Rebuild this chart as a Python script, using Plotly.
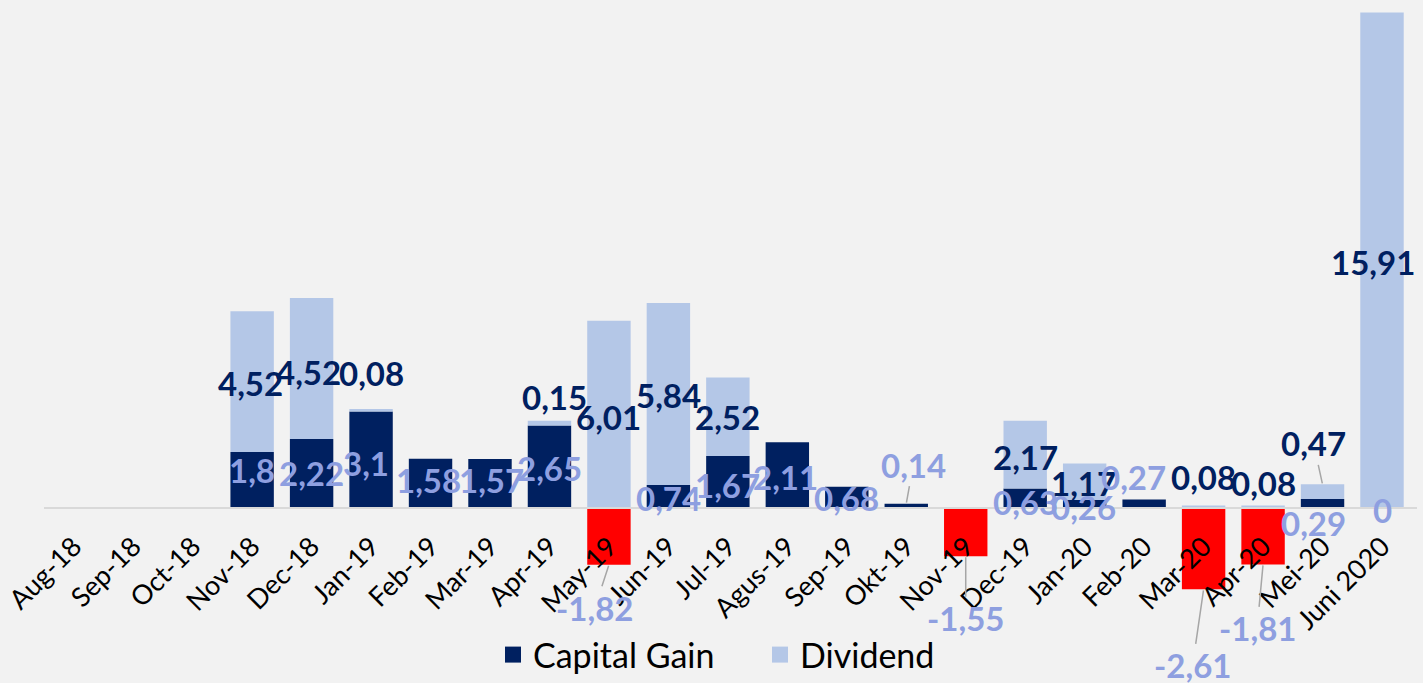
import plotly.graph_objects as go

# ---------------- data ----------------
categories = ["Aug-18", "Sep-18", "Oct-18", "Nov-18", "Dec-18", "Jan-19", "Feb-19",
              "Mar-19", "Apr-19", "May-19", "Jun-19", "Jul-19", "Agus-19", "Sep-19",
              "Okt-19", "Nov-19", "Dec-19", "Jan-20", "Feb-20", "Mar-20", "Apr-20",
              "Mei-20", "Juni 2020"]
capital_gain = [None, None, None, 1.8, 2.22, 3.1, 1.58, 1.57, 2.65, -1.82, 0.74, 1.67,
                2.11, 0.68, 0.14, -1.55, 0.63, 0.26, 0.27, -2.61, -1.81, 0.29, 0]
dividend = [None, None, None, 4.52, 4.52, 0.08, None, None, 0.15, 6.01, 5.84, 2.52,
            None, None, None, None, 2.17, 1.17, None, 0.08, 0.08, 0.47, 15.91]

# ---------------- style ----------------
NAVY = "#002060"
LIGHT = "#B4C7E7"
RED = "#FF0000"
LABEL_LIGHT = "#8E9FE0"
BG = "#F2F2F2"
FONT = "Lato"
LABEL_SIZE = 33

# label placement (pixel offsets: dx from category centre, dy above the zero line)
# entries with an arrow: (dx, dy) is the text offset from the bar end
cg_label_pos = [None, None, None, (0, 38), (0, 35), (-5, 45), (-2, 28), (1, 28), (0, 40),
                ("arrow", -14, 43), (0, 10), (0, 23), (-2, 31), (0, 10),
                ("arrow", 7, -39), ("arrow", 0, 62), (0, 6), (-1, 1), (-11, 31),
                ("arrow", -11, 76), ("arrow", -6, 64), (-9, -15), (0, -2)]
dv_label_pos = [None, None, None, (-2, 125), (-3, 136), (0, 135), None, None, (5, 111),
                (0, 91), (0, 113), (0, 91), None, None, None, None, (0, 51), (-1, 25),
                None, (0, 31), (0, 25), ("arrow", -9, -41), (-9, 246)]

def fmt(v):
    s = f"{v:.2f}".rstrip("0").rstrip(".")
    return s.replace(".", ",")

cg_colors = [RED if (v is not None and v < 0) else NAVY for v in capital_gain]

fig = go.Figure()
fig.add_trace(go.Bar(x=categories, y=capital_gain, name="Capital Gain",
                     marker=dict(color=cg_colors, line=dict(width=0)),
                     hoverinfo="skip", showlegend=False, legendgroup="cg"))
fig.add_trace(go.Bar(x=categories, y=dividend, name="Dividend",
                     marker=dict(color=LIGHT, line=dict(width=0)),
                     hoverinfo="skip", showlegend=False, legendgroup="dv"))
# legend entries with larger square keys
for name, col, grp in (("Capital Gain", NAVY, "cg"), ("Dividend", LIGHT, "dv")):
    fig.add_trace(go.Scatter(x=[None], y=[None], mode="markers", name=name,
                             legendgroup=grp,
                             marker=dict(symbol="square", size=21, color=col),
                             hoverinfo="skip"))

annotations = []
for i, cat in enumerate(categories):
    for vals, pos, color in ((capital_gain, cg_label_pos, LABEL_LIGHT),
                             (dividend, dv_label_pos, NAVY)):
        v = vals[i]
        p = pos[i]
        if v is None or p is None:
            continue
        font = dict(family=FONT, size=LABEL_SIZE, color=color, weight="bold")
        if p[0] == "arrow":
            if vals is dividend:
                tip = (capital_gain[i] or 0) + v
            else:
                tip = v
            annotations.append(dict(x=cat, y=tip, xref="x", yref="y", text=fmt(v),
                                    showarrow=True, arrowhead=0, arrowwidth=1.5,
                                    arrowcolor="#A6A6A6", ax=p[1], ay=p[2],
                                    standoff=1, font=font))
        else:
            annotations.append(dict(x=cat, y=0, xref="x", yref="y", text=fmt(v),
                                    showarrow=False, xshift=p[0], yshift=p[1],
                                    xanchor="center", yanchor="middle", font=font))

y_top, y_bot = 16.15, -2.953
fig.update_layout(
    barmode="relative",
    bargap=0.27,
    width=1423, height=683,
    margin=dict(l=44, r=6, t=5, b=83),
    paper_bgcolor=BG, plot_bgcolor=BG,
    font=dict(family=FONT, color="#000000"),
    showlegend=True,
    legend=dict(orientation="h", xref="container", yref="container",
                x=493 / 1423, y=0.041, xanchor="left", yanchor="middle",
                font=dict(family=FONT, size=34, color="#000000"),
                bgcolor="rgba(0,0,0,0)", itemwidth=30, itemsizing="trace",
                entrywidth=222, entrywidthmode="pixels"),
    annotations=annotations,
    xaxis=dict(type="category", anchor="free",
               position=(0 - y_bot) / (y_top - y_bot),
               showline=True, linecolor="#D9D9D9", linewidth=2,
               showgrid=False, zeroline=False, ticks="",
               tickangle=-45, tickfont=dict(family=FONT, size=27, color="#000000"),
               ticklabelstandoff=11, automargin=False),
    yaxis=dict(range=[y_bot, y_top], visible=False, showgrid=False, zeroline=False),
)

fig.write_html("out.html", config={"displayModeBar": False},
               post_script="document.body.style.margin='0';"
                           "document.body.style.background='#F2F2F2';")
